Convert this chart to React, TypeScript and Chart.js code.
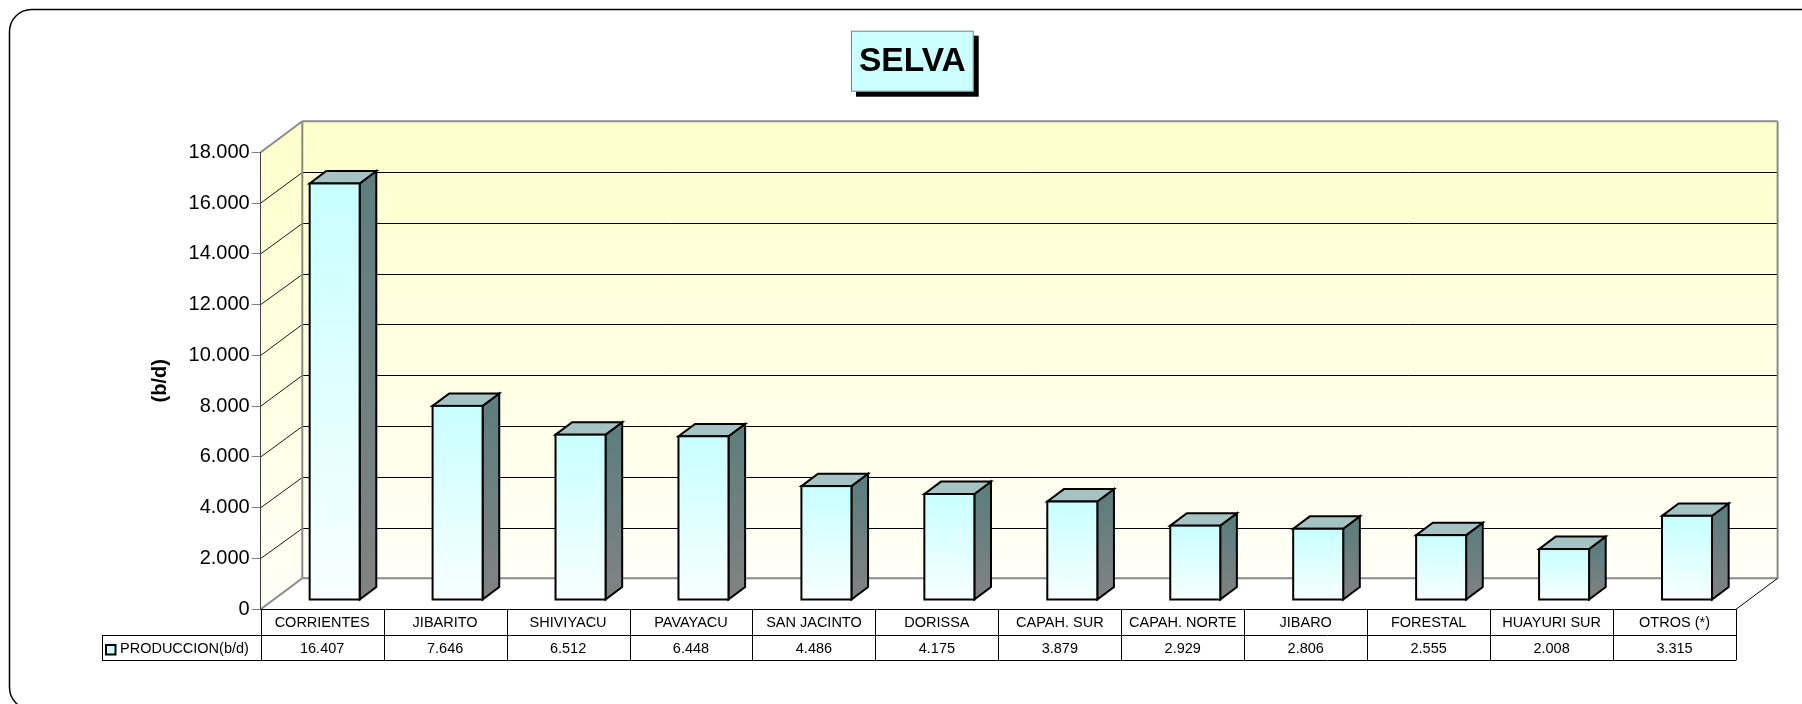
import React, { useEffect, useRef } from 'react';
import { Chart, registerables } from 'chart.js';

Chart.register(...registerables);

// ---------- DATA ----------
const categories = [
  'CORRIENTES', 'JIBARITO', 'SHIVIYACU', 'PAVAYACU', 'SAN JACINTO', 'DORISSA',
  'CAPAH. SUR', 'CAPAH. NORTE', 'JIBARO', 'FORESTAL', 'HUAYURI SUR', 'OTROS (*)',
];
const produccion = [16407, 7646, 6512, 6448, 4486, 4175, 3879, 2929, 2806, 2555, 2008, 3315];
const seriesLabel = 'PRODUCCION(b/d)';
const chartTitle = 'SELVA';
const axisTitle = '(b/d)';
const yMin = 0;
const yMax = 18000;
const yStep = 2000;

// ---------- STYLE ----------
const FONT = "Arial, 'Liberation Sans', Helvetica, sans-serif";
const DX = 41.6; // depth offset of the 3D box
const DY = -31;
const FRONT = 0.3; // bar front plane (fraction of depth)
const BACK = 0.7; // bar back plane

function fmt(v: number): string {
  return String(Math.round(v)).replace(/\B(?=(\d{3})+(?!\d))/g, '.');
}

const crisp = (v: number) => Math.round(v) + 0.5;

const threeD = {
  id: 'threeD',
  beforeDraw(chart: any) {
    const { ctx, chartArea: a } = chart;
    const y = chart.scales.y;
    ctx.save();
    // outer rounded frame
    ctx.beginPath();
    (ctx as any).roundRect(9.5, 9.5, 1820, 700, 22);
    ctx.lineWidth = 1.5;
    ctx.strokeStyle = '#000';
    ctx.stroke();

    const bl = a.left + DX, br = a.right + DX, bt = a.top + DY, bb = a.bottom + DY;
    // back wall
    let g = ctx.createLinearGradient(0, bt, 0, bb);
    g.addColorStop(0, '#FFFFCC');
    g.addColorStop(1, '#FFFFF8');
    ctx.fillStyle = g;
    ctx.fillRect(bl, bt, br - bl, bb - bt);
    // side wall
    g = ctx.createLinearGradient(0, bt, 0, a.bottom);
    g.addColorStop(0, '#FFFFCC');
    g.addColorStop(1, '#FFFFF8');
    ctx.fillStyle = g;
    ctx.beginPath();
    ctx.moveTo(a.left, a.bottom);
    ctx.lineTo(a.left, a.top);
    ctx.lineTo(bl, bt);
    ctx.lineTo(bl, bb);
    ctx.closePath();
    ctx.fill();
    // floor
    ctx.fillStyle = '#FFFFFF';
    ctx.beginPath();
    ctx.moveTo(a.left, a.bottom);
    ctx.lineTo(a.right, a.bottom);
    ctx.lineTo(br, bb);
    ctx.lineTo(bl, bb);
    ctx.closePath();
    ctx.fill();

    // gridlines on back wall and side wall
    y.ticks.forEach((t: any) => {
      const py = y.getPixelForValue(t.value);
      const edge = t.value === yMin || t.value === yMax;
      ctx.lineWidth = edge ? 2 : 1;
      ctx.strokeStyle = edge ? '#8A8A8A' : '#000';
      const yb = edge ? py + DY : crisp(py + DY);
      ctx.beginPath();
      ctx.moveTo(bl, yb);
      ctx.lineTo(br, yb);
      ctx.stroke();
      ctx.lineWidth = edge ? 2 : 0.9;
      ctx.strokeStyle = edge ? '#8A8A8A' : '#000';
      ctx.beginPath();
      ctx.moveTo(a.left, py);
      ctx.lineTo(bl, yb);
      ctx.stroke();
    });
    // wall edges
    ctx.lineWidth = 2;
    ctx.strokeStyle = '#8A8A8A';
    ctx.beginPath();
    ctx.moveTo(bl, bb);
    ctx.lineTo(bl, bt);
    ctx.moveTo(br, bt);
    ctx.lineTo(br, bb);
    ctx.stroke();
    ctx.lineWidth = 1;
    ctx.strokeStyle = '#000';
    ctx.beginPath();
    ctx.moveTo(a.right, a.bottom);
    ctx.lineTo(br, bb);
    ctx.stroke();
    ctx.restore();
  },
  afterDatasetsDraw(chart: any) {
    const { ctx } = chart;
    const meta = chart.getDatasetMeta(0);
    const fx = DX * FRONT, fy = DY * FRONT;
    const ddx = DX * (BACK - FRONT), ddy = DY * (BACK - FRONT);
    ctx.save();
    ctx.lineWidth = 2;
    ctx.lineJoin = 'miter';
    ctx.strokeStyle = '#000';
    meta.data.forEach((el: any) => {
      const p = el.getProps(['x', 'y', 'base', 'width'], true);
      const l = p.x - p.width / 2 + fx;
      const r = p.x + p.width / 2 + fx;
      const t = p.y + fy;
      const b = p.base + fy;
      // side face
      let g = ctx.createLinearGradient(0, t, 0, b);
      g.addColorStop(0, '#5E7E7E');
      g.addColorStop(1, '#828282');
      ctx.fillStyle = g;
      ctx.beginPath();
      ctx.moveTo(r, t);
      ctx.lineTo(r + ddx, t + ddy);
      ctx.lineTo(r + ddx, b + ddy);
      ctx.lineTo(r, b);
      ctx.closePath();
      ctx.fill();
      ctx.stroke();
      // top face
      ctx.fillStyle = '#A6C3C3';
      ctx.beginPath();
      ctx.moveTo(l, t);
      ctx.lineTo(l + ddx, t + ddy);
      ctx.lineTo(r + ddx, t + ddy);
      ctx.lineTo(r, t);
      ctx.closePath();
      ctx.fill();
      ctx.stroke();
      // front face
      g = ctx.createLinearGradient(0, t, 0, b);
      g.addColorStop(0, '#C8FFFF');
      g.addColorStop(1, '#F8FFFF');
      ctx.fillStyle = g;
      ctx.fillRect(l, t, r - l, b - t);
      ctx.strokeRect(l, t, r - l, b - t);
    });
    ctx.restore();
  },
  afterDraw(chart: any) {
    const { ctx, chartArea: a } = chart;
    const x = chart.scales.x;
    const n = categories.length;
    const colW = (a.right - a.left) / n;
    const r1 = a.bottom, r2 = a.bottom + 25.7, r3 = a.bottom + 51;
    const labelLeft = 102;
    ctx.save();
    ctx.strokeStyle = '#000';
    ctx.lineWidth = 1;
    ctx.beginPath();
    ctx.moveTo(a.left, crisp(r1));
    ctx.lineTo(a.right, crisp(r1));
    ctx.moveTo(labelLeft, crisp(r2));
    ctx.lineTo(a.right, crisp(r2));
    ctx.moveTo(labelLeft, crisp(r3));
    ctx.lineTo(a.right, crisp(r3));
    ctx.moveTo(crisp(labelLeft), r2);
    ctx.lineTo(crisp(labelLeft), r3);
    for (let k = 0; k <= n; k++) {
      const xx = crisp(a.left + k * colW);
      ctx.moveTo(xx, r1);
      ctx.lineTo(xx, r3);
    }
    ctx.stroke();

    ctx.fillStyle = '#000';
    ctx.font = `14.5px ${FONT}`;
    ctx.textAlign = 'center';
    ctx.textBaseline = 'middle';
    categories.forEach((c, i) => {
      const cx = x.getPixelForValue(i);
      ctx.fillText(c, cx, (r1 + r2) / 2 + 1);
      ctx.fillText(fmt(produccion[i]), cx, (r2 + r3) / 2 + 1);
    });
    // legend cell
    ctx.fillStyle = '#CCFFFF';
    ctx.fillRect(106, 645, 9.5, 9.5);
    ctx.lineWidth = 2;
    ctx.strokeRect(106, 645, 9.5, 9.5);
    ctx.fillStyle = '#000';
    ctx.textAlign = 'left';
    ctx.fillText(seriesLabel, 120, (r2 + r3) / 2 + 1);

    // title box
    const tx = 851, ty = 30.7, tw = 122.7, th = 61;
    ctx.fillStyle = '#000';
    ctx.fillRect(tx + 5, ty + 5, tw, th);
    ctx.fillStyle = '#CCFFFF';
    ctx.fillRect(tx, ty, tw, th);
    ctx.strokeStyle = '#808080';
    ctx.lineWidth = 1;
    ctx.strokeRect(tx + 0.5, ty + 0.5, tw - 1, th - 1);
    ctx.fillStyle = '#000';
    ctx.font = `bold 33.5px ${FONT}`;
    ctx.textAlign = 'center';
    ctx.textBaseline = 'middle';
    ctx.fillText(chartTitle, tx + tw / 2, ty + th / 2 + 1);
    ctx.restore();
  },
};

export default function App() {
  const ref = useRef<HTMLCanvasElement>(null);
  useEffect(() => {
    if (!ref.current) return;
    Chart.defaults.font.family = FONT;
    const chart = new Chart(ref.current, {
      type: 'bar',
      data: {
        labels: categories,
        datasets: [
          {
            label: seriesLabel,
            data: produccion,
            backgroundColor: 'rgba(0,0,0,0)',
            borderWidth: 0,
            barPercentage: 50 / 122.94,
            categoryPercentage: 1,
          },
        ],
      },
      options: {
        responsive: false,
        animation: false,
        devicePixelRatio: 1,
        layout: { padding: { left: 0, top: 152.3, right: 66, bottom: 94.7 } },
        plugins: { legend: { display: false }, tooltip: { enabled: false }, title: { display: false } },
        scales: {
          x: { display: false, offset: true },
          y: {
            min: yMin,
            max: yMax,
            ticks: {
              stepSize: yStep,
              color: '#000',
              font: { size: 20, family: FONT },
              padding: 2,
              callback: (v: any) => fmt(Number(v)),
            },
            grid: { drawOnChartArea: false, drawTicks: true, tickLength: 9, color: '#808080', lineWidth: 1 },
            border: { display: true, color: '#404040', width: 1 },
            title: {
              display: true,
              text: axisTitle,
              color: '#000',
              font: { size: 20, weight: 'bold', family: FONT },
              padding: { top: 148.7, bottom: 0 },
            },
            afterFit: (scale: any) => {
              scale.width = 260.7;
            },
          },
        },
      },
      plugins: [threeD],
    } as any);
    return () => chart.destroy();
  }, []);
  return (
    <div style={{ position: 'absolute', left: 0, top: 0, width: 1802, height: 704 }}>
      <canvas ref={ref} width={1802} height={704} style={{ display: 'block', width: 1802, height: 704 }} />
    </div>
  );
}
